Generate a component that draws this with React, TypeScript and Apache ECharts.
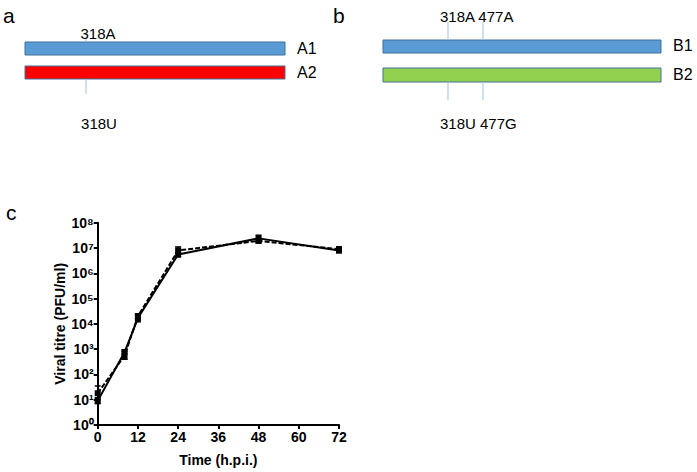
import React, { useEffect, useRef } from "react";
import * as echarts from "echarts";

const times = [0, 8, 12, 24, 48, 72];
const solidValues = [9, 750, 1.7e4, 5.5e6, 2.4e7, 8e6];
const dashedValues = [18, 550, 2e4, 8e6, 1.9e7, 9e6];
const solidErrLow = [7, 400, 1.2e4, 4.5e6, 1.8e7, 6.5e6];
const solidErrHigh = [12, 950, 2.2e4, 6.5e6, 3.2e7, 1e7];
const dashedErrLow = [10, 400, 1.5e4, 6e6, 1.6e7, 7e6];
const dashedErrHigh = [35, 800, 2.5e4, 1.1e7, 2.4e7, 1.1e7];
const xTicks = [0, 12, 24, 36, 48, 60, 72];
const supers = ["⁰", "¹", "²", "³", "⁴", "⁵", "⁶", "⁷", "⁸"];

const panelA = { top: "318A", bottom: "318U", rows: ["A1", "A2"] };
const panelB = { top: "318A 477A", bottom: "318U 477G", rows: ["B1", "B2"] };

const BLUE = "#5B9BD5";
const BORDER = "#41719C";
const MARK = "#9DC3E6";
const FONT = "'Liberation Sans', Arial, sans-serif";
const NARROW = "'Liberation Sans Narrow', 'Arial Narrow', sans-serif";

function errSeries(name: string, lows: number[], highs: number[]) {
  return {
    type: "custom",
    name,
    silent: true,
    z: 5,
    data: times.map((t, i) => [t, lows[i], highs[i]]),
    renderItem: (params: any, api: any) => {
      const x = api.value(0);
      const lo = api.coord([x, api.value(1)]);
      const hi = api.coord([x, api.value(2)]);
      const w = 3;
      const style = { stroke: "#000", lineWidth: 1.5 };
      return {
        type: "group",
        children: [
          { type: "line", shape: { x1: lo[0], y1: lo[1], x2: hi[0], y2: hi[1] }, style },
          { type: "line", shape: { x1: lo[0] - w, y1: lo[1], x2: lo[0] + w, y2: lo[1] }, style },
          { type: "line", shape: { x1: hi[0] - w, y1: hi[1], x2: hi[0] + w, y2: hi[1] }, style },
        ],
      };
    },
  };
}

function txt(text: string, x: number, y: number, size: number, align = "left") {
  return {
    type: "text",
    x,
    y,
    style: { text, fontSize: size, fontFamily: FONT, fill: "#000", align, verticalAlign: "middle" },
  };
}
function bar(x: number, y: number, w: number, h: number, fill: string) {
  return { type: "rect", shape: { x, y, width: w, height: h }, style: { fill, stroke: BORDER, lineWidth: 1 } };
}
function vline(x: number, y1: number, y2: number) {
  return { type: "line", shape: { x1: x, y1, x2: x, y2 }, style: { stroke: MARK, lineWidth: 1 } };
}

export default function App() {
  const ref = useRef<HTMLDivElement>(null);
  useEffect(() => {
    document.body.style.margin = "0";
    document.body.style.overflow = "hidden";
    if (!ref.current) return;
    const chart = echarts.init(ref.current, undefined, { renderer: "svg" });
    chart.setOption({
      animation: false,
      backgroundColor: "#fff",
      graphic: [
        txt("a", 3, 15, 21),
        txt("b", 333, 15, 21),
        txt("c", 6, 212, 21),
        bar(25, 42, 260, 13, BLUE),
        bar(25, 66, 260, 13, "#FF0000"),
        vline(86, 38, 42),
        vline(86, 79, 94),
        txt(panelA.top, 98, 33, 15, "center"),
        txt(panelA.bottom, 99, 123, 15, "center"),
        txt(panelA.rows[0], 297, 48, 16),
        txt(panelA.rows[1], 297, 72, 16),
        bar(383, 40, 278, 13, BLUE),
        bar(383, 68, 278, 14, "#92D050"),
        vline(448, 22, 40),
        vline(483, 22, 40),
        vline(448, 82, 100),
        vline(483, 82, 100),
        txt(panelB.top, 440, 16, 15),
        txt(panelB.bottom, 440, 123, 15),
        txt(panelB.rows[0], 673, 45, 16),
        txt(panelB.rows[1], 673, 74, 16),
      ],
      grid: { left: 97.7, right: 358, top: 222.7, bottom: 47, containLabel: false },
      xAxis: {
        type: "value",
        min: 0,
        max: 72,
        interval: 12,
        name: "Time (h.p.i.)",
        nameLocation: "middle",
        nameGap: 28,
        nameTextStyle: { fontFamily: NARROW, fontWeight: "bold", fontSize: 14, color: "#000" },
        axisLine: { lineStyle: { color: "#000", width: 2 } },
        axisTick: { show: true, length: 4, lineStyle: { color: "#000", width: 2 } },
        axisLabel: {
          color: "#000",
          fontFamily: NARROW,
          fontWeight: "bold",
          fontSize: 14,
          margin: 5,
          formatter: (v: number) => (xTicks.includes(v) ? String(v) : ""),
        },
        splitLine: { show: false },
      },
      yAxis: {
        type: "log",
        logBase: 10,
        min: 1,
        max: 1e8,
        interval: 1,
        name: "Viral titre (PFU/ml)",
        nameLocation: "middle",
        nameGap: 30,
        nameTextStyle: { fontFamily: NARROW, fontWeight: "bold", fontSize: 14, color: "#000" },
        axisLine: { show: true, lineStyle: { color: "#000", width: 2 } },
        axisTick: { show: true, length: 4, lineStyle: { color: "#000", width: 2 } },
        axisLabel: {
          color: "#000",
          fontFamily: NARROW,
          fontWeight: "bold",
          fontSize: 14,
          margin: 4,
          formatter: (v: number) => {
            const e = Math.round(Math.log10(v));
            return "10" + (supers[e] ?? "");
          },
        },
        splitLine: { show: false },
      },
      series: [
        {
          type: "line",
          name: "solid",
          data: times.map((t, i) => [t, solidValues[i]]),
          lineStyle: { color: "#000", width: 2 },
          itemStyle: { color: "#000" },
          symbol: "rect",
          symbolSize: 6,
          z: 4,
        },
        {
          type: "line",
          name: "dashed",
          data: times.map((t, i) => [t, dashedValues[i]]),
          lineStyle: { color: "#000", width: 2, type: [5, 2] },
          itemStyle: { color: "#000" },
          symbol: "rect",
          symbolSize: 6,
          z: 4,
        },
        errSeries("solidErr", solidErrLow, solidErrHigh),
        errSeries("dashedErr", dashedErrLow, dashedErrHigh),
      ],
    });
    return () => chart.dispose();
  }, []);
  return <div ref={ref} style={{ width: 697, height: 472 }} />;
}
